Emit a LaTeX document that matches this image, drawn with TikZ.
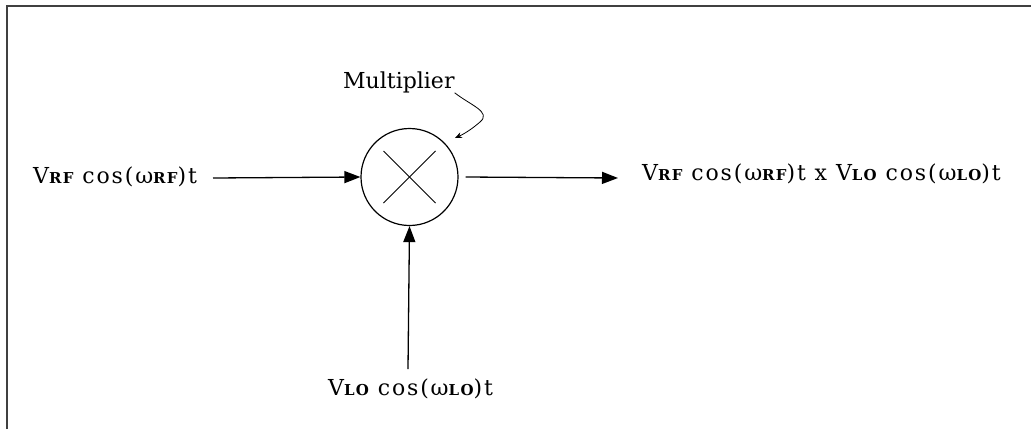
\documentclass[tikz,border=0pt]{standalone}
\usepackage{fontspec}
\setmainfont{DejaVu Serif}
\newfontfamily\eqfont[LetterSpace=8.5]{DejaVu Serif}
\usetikzlibrary{arrows.meta,calc}
\newcommand\sbs[1]{{\fontsize{15}{15}\selectfont\bfseries #1}}
\tikzset{
  lbl/.style={inner sep=0pt, anchor=base west, font=\fontsize{22}{22}\selectfont},
  eq/.style={lbl, font=\fontsize{22}{22}\eqfont},
  conn/.style={line width=1.3pt, -{Triangle[length=16pt,width=12pt]}},
  frame/.style={line width=2.4pt, draw=black!75}
}
\begin{document}
\begin{tikzpicture}[x=1pt,y=-1pt]
\useasboundingbox (0,0) rectangle (1031,429);
\draw[frame] (7,429) -- (7,6) -- (1031,6);
\node[circle, draw, line width=1.2pt, minimum size=97pt, inner sep=0pt] (mix) at (409.5,177) {};
\draw[line width=1pt] ($(mix)+(-26,-26)$) -- ($(mix)+(26,26)$);
\draw[line width=1pt] ($(mix)+(-26,26)$) -- ($(mix)+(26,-26)$);
\node[eq] (rf) at (33,183) {V\sbs{RF} cos(ω\sbs{RF})t};
\node[eq] (lo) at (328,395) {V\sbs{LO} cos(ω\sbs{LO})t};
\node[eq] (out) at (642,180) {V\sbs{RF} cos(ω\sbs{RF})t x V\sbs{LO} cos(ω\sbs{LO})t};
\node[lbl] (mlabel) at (343,88) {Multiplier};
\coordinate (rfend) at (213,178);
\coordinate (outend) at (618,178);
\coordinate (loend) at (408,369);
\coordinate (ptr) at (455,138);
\draw[conn] (rfend) -- (mix.west);
\draw[conn] (mix.east) ++(7,0) -- (outend);
\draw[conn] (loend) -- (mix.south);
\draw[line width=0.8pt, -{Stealth[length=7pt,width=6pt]}] (mlabel.south east) .. controls (470,105) and (492,112) .. (480,122) .. controls (472,129) and (464,134) .. (ptr);
\end{tikzpicture}
\end{document}
